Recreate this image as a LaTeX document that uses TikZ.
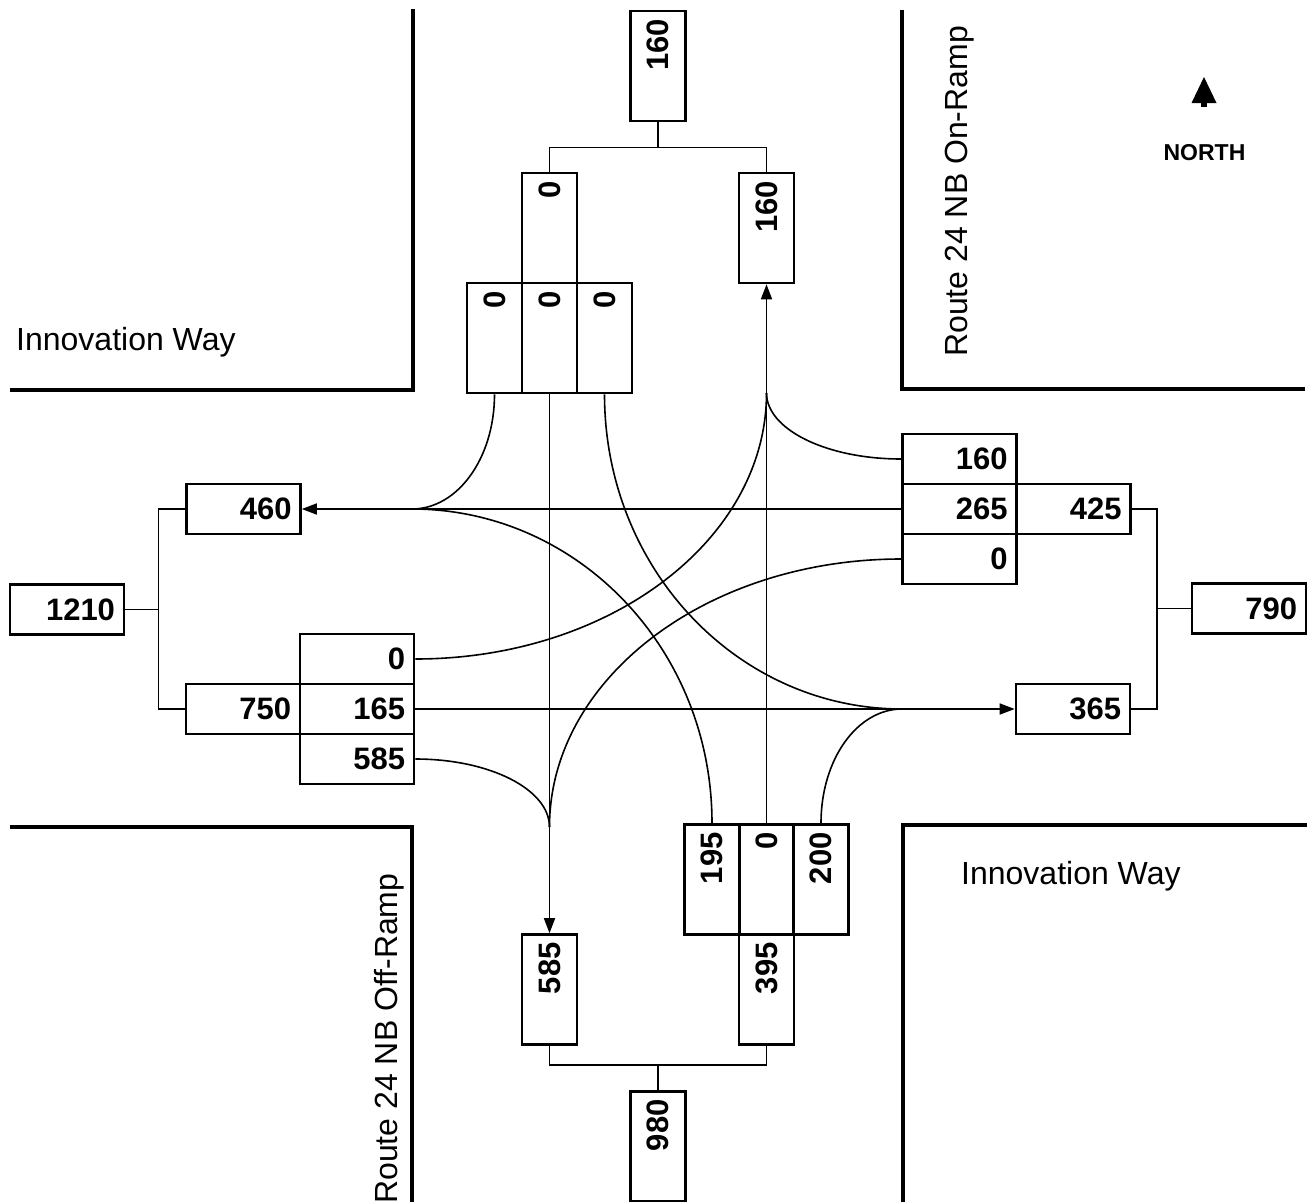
\documentclass[tikz,border=0pt]{standalone}
\usepackage{fontspec}
\usepackage{graphicx}
\setmainfont{Liberation Sans}
\usetikzlibrary{arrows.meta}
\newcommand\mynumfont{\fontsize{31}{31}\selectfont\bfseries}
\newcommand\mylblfont{\fontsize{32}{32}\selectfont}
\newcommand\hnum[1]{\makebox[96pt][r]{#1}}
\newcommand\vnum[1]{\rotatebox{90}{\makebox[94pt][r]{#1}}}
\begin{document}
\begin{tikzpicture}[x=1pt,y=-1pt,
  box/.style={draw, line width=2.6pt, inner sep=0pt, minimum width=114pt, minimum height=50pt, font=\mynumfont},
  vbox/.style={draw, line width=2.6pt, inner sep=0pt, minimum width=55pt, minimum height=110pt, font=\mynumfont},
  road/.style={line width=4pt},
  link/.style={line width=1.6pt},
  flow/.style={line width=1.6pt, -{Triangle[length=15pt,width=11pt]}},
  lbl/.style={font=\mylblfont, inner sep=0pt}
]
\useasboundingbox (0,0) rectangle (1307,1202);

% roads
\draw[road] (413,9) -- (413,390) -- (10,390);
\draw[road] (902,10) -- (902,389) -- (1305,389);
\draw[road] (10,827) -- (412,827) -- (412,1202);
\draw[road] (1307,825) -- (903,825) -- (903,1202);

% road labels
\node[lbl, anchor=base west] (iwl) at (16,350) {Innovation Way};
\node[lbl, anchor=base west] (iwr) at (961,884) {Innovation Way};
\node[lbl, anchor=base west, rotate=90] (onr) at (967,357) {Route 24 NB On-Ramp};
\node[lbl, anchor=base west, rotate=90] (offr) at (397,1204) {Route 24 NB Off-Ramp};

% north arrow
\node[font=\fontsize{23}{23}\selectfont\bfseries, anchor=base, inner sep=0pt] (north) at (1204.5,160) {NORTH};
\fill (1204,77) -- (1216.5,103) -- (1191.5,103) -- cycle;
\fill (1201,102) rectangle (1207,107);

% top group
\node[vbox] (T160) at (658,66) {\vnum{160}};
\node[vbox] (T0) at (549.5,228) {\vnum{0}};
\node[vbox] (T160b) at (766.5,228) {\vnum{160}};
\node[vbox] (TL) at (494.5,338) {\vnum{0}};
\node[vbox] (TT) at (549.5,338) {\vnum{0}};
\node[vbox] (TR) at (604.5,338) {\vnum{0}};

% bottom group
\node[vbox] (B195) at (712,879.5) {\vnum{195}};
\node[vbox] (B0) at (766.5,879.5) {\vnum{0}};
\node[vbox] (B200) at (821,879.5) {\vnum{200}};
\node[vbox] (B395) at (766.5,989.5) {\vnum{395}};
\node[vbox] (B585) at (549.5,989.5) {\vnum{585}};
\node[vbox] (B980) at (658,1146.5) {\vnum{980}};

% left group
\node[box] (L460) at (243.5,509) {\hnum{460}};
\node[box] (L1210) at (67,609.5) {\hnum{1210}};
\node[box] (L0) at (357,659) {\hnum{0}};
\node[box] (L750) at (243,709) {\hnum{750}};
\node[box] (L165) at (357,709) {\hnum{165}};
\node[box] (L585) at (357,759) {\hnum{585}};

% right group
\node[box] (R160) at (959.5,459) {\hnum{160}};
\node[box] (R265) at (959.5,509) {\hnum{265}};
\node[box] (R0) at (959.5,559) {\hnum{0}};
\node[box] (R425) at (1073.5,509) {\hnum{425}};
\node[box] (R365) at (1073,709) {\hnum{365}};
\node[box] (R790) at (1249,608.5) {\hnum{790}};

% brackets
\draw[link] (T160.south) -- ++(0,25) coordinate (tb);
\draw[link] (T0.north) |- (tb) -| (T160b.north);
\draw[link] (B980.north) -- ++(0,-25) coordinate (bb);
\draw[link] (B585.south) |- (bb) -| (B395.south);
\draw[link] (L1210.east) -- ++(33,0) coordinate (lb);
\draw[link] (L460.west) -| (lb) |- (L750.west);
\draw[link] (R790.west) -- ++(-34,0) coordinate (rb);
\draw[link] (R425.east) -| (rb) |- (R365.east);

% junctions
\coordinate (J1) at (412,509);
\coordinate (J2) at (766.5,393);
\coordinate (J3) at (902,709);
\coordinate (J4) at (549.5,827);

% through movements
\draw[flow] (R265.west) -- (L460.east);
\draw[flow] (L165.east) -- (R365.west);
\draw[flow] (TT.south) -- (B585.north);
\draw[flow] (B0.north) -- (T160b.south);

% turning movements
\draw[link] (TL.south) .. controls +(0,64) and +(45.5,0) .. (J1);
\draw[link] (J1) .. controls +(165.6,0) and +(0,-174.5) .. (B195.north);
\draw[link] (L0.east) .. controls +(194.6,0) and +(0,146.8) .. (J2);
\draw[link] (R160.west) .. controls +(-74.8,0) and +(0,36.4) .. (J2);
\draw[link] (R0.west) .. controls +(-194.6,0) and +(0,-148) .. (J4);
\draw[link] (L585.east) .. controls +(74.8,0) and +(0,-37.5) .. (J4);
\draw[link] (TR.south) .. controls +(0,174.4) and +(-164.2,0) .. (J3);
\draw[link] (B200.north) .. controls +(0,-64) and +(-44.7,0) .. (J3);
\end{tikzpicture}
\end{document}
